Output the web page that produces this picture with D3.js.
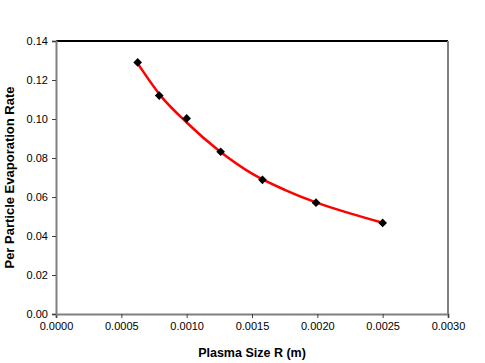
<!DOCTYPE html>
<html>
<head>
<meta charset="utf-8">
<script src="https://cdn.jsdelivr.net/npm/d3@7"></script>
<style>
  body { margin: 0; background: #fff; }
  text { font-family: 'Liberation Sans', Arial, sans-serif; }
</style>
</head>
<body>
<svg id="chart" width="485" height="363"></svg>
<script>
// plasma size R (m) and per particle evaporation rate
var sizes = [0.000625, 0.00079, 0.001, 0.00126, 0.00158, 0.00199, 0.0025]
var rates = [0.129, 0.112, 0.1003, 0.0832, 0.0688, 0.0571, 0.0467]
// trend line
var trendSizes = [0.000625, 0.0008, 0.001, 0.00125, 0.0015, 0.00175, 0.002, 0.00225, 0.0025]
var trendRates = [0.1285, 0.1120, 0.0982, 0.0836, 0.0720, 0.0637, 0.0570, 0.0516, 0.0468]
var xTicks = [0, 0.0005, 0.001, 0.0015, 0.002, 0.0025, 0.003]
var yTicks = [0, 0.02, 0.04, 0.06, 0.08, 0.10, 0.12, 0.14]

var margin = { top: 41, right: 37, bottom: 49, left: 56 }
var svg = d3.select('#chart')
var width = 485 - margin.left - margin.right
var height = 363 - margin.top - margin.bottom

var x = d3.scaleLinear().domain([0, 0.003]).range([0, width])
var y = d3.scaleLinear().domain([0, 0.14]).range([height, 0])

var g = svg.append('g')
  .attr('transform', 'translate(' + margin.left + ',' + margin.top + ')')

// frame: black top, grey right
g.append('line')
  .attr('x1', 0).attr('x2', width).attr('y1', 0).attr('y2', 0)
  .attr('stroke', '#000').attr('stroke-width', 2)
g.append('line')
  .attr('x1', width).attr('x2', width).attr('y1', 0).attr('y2', height)
  .attr('stroke', '#808080').attr('stroke-width', 2)

var xAxis = g.append('g')
  .attr('transform', 'translate(0,' + height + ')')
  .call(d3.axisBottom(x).tickValues(xTicks).tickFormat(d3.format('.4f')).tickSize(4).tickPadding(4))
var yAxis = g.append('g')
  .call(d3.axisLeft(y).tickValues(yTicks).tickFormat(d3.format('.2f')).tickSize(4).tickPadding(4))

;[xAxis, yAxis].forEach(function (ax) {
  ax.select('.domain').attr('stroke', '#808080').attr('stroke-width', 2)
  ax.selectAll('.tick line').attr('stroke', '#404040')
  ax.selectAll('.tick text').attr('fill', '#000')
    .style('font-size', '11px').style('font-family', "'Liberation Sans', Arial, sans-serif")
})

// red trend curve
var trend = trendSizes.map(function (s, i) { return { s: s, r: trendRates[i] } })
g.append('path')
  .datum(trend)
  .attr('fill', 'none')
  .attr('stroke', '#ff0000')
  .attr('stroke-width', 2.5)
  .attr('d', d3.line()
    .x(function (d) { return x(d.s) })
    .y(function (d) { return y(d.r) })
    .curve(d3.curveMonotoneX))

// diamond markers
var points = sizes.map(function (s, i) { return { s: s, r: rates[i] } })
g.selectAll('.marker')
  .data(points)
  .enter()
  .append('path')
  .attr('class', 'marker')
  .attr('d', d3.symbol().type(d3.symbolDiamond2).size(48))
  .attr('transform', function (d) {
    return 'translate(' + x(d.s) + ',' + y(d.r) + ')'
  })
  .attr('fill', '#000')

// axis titles
svg.append('text')
  .attr('x', margin.left + width / 2)
  .attr('y', 357)
  .attr('text-anchor', 'middle')
  .style('font-size', '12.5px')
  .style('font-weight', 'bold')
  .text('Plasma Size R (m)')
svg.append('text')
  .attr('transform', 'translate(14,' + (margin.top + height / 2) + ') rotate(-90)')
  .attr('text-anchor', 'middle')
  .style('font-size', '13px')
  .style('font-weight', 'bold')
  .text('Per Particle Evaporation Rate')
</script>
</body>
</html>
